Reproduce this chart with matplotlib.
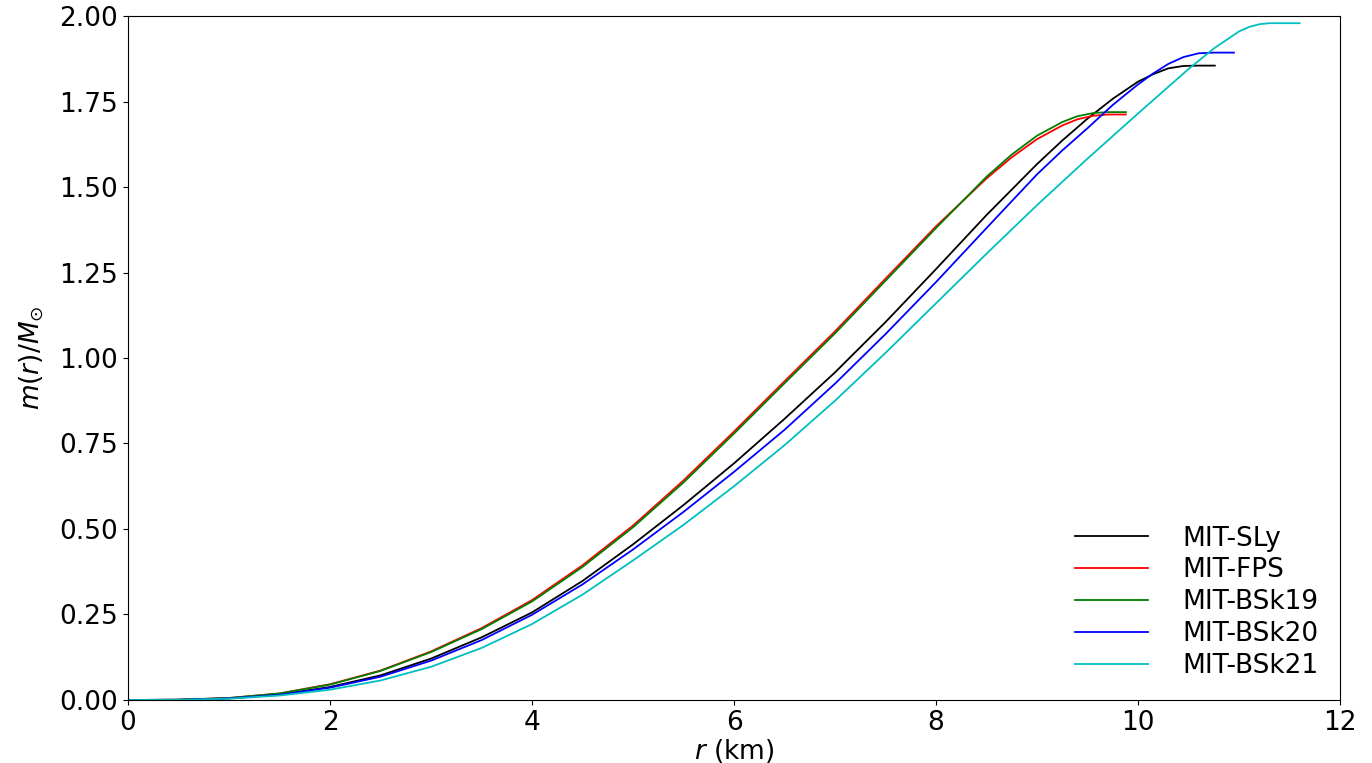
import numpy as np
import matplotlib
matplotlib.use('Agg')
import matplotlib.pyplot as plt

# radius (km) and enclosed mass (M_sun)
r_sly = [0, 0.5, 1, 1.5, 2, 2.5, 3, 3.5, 4, 4.5, 5, 5.5, 6, 6.5, 7, 7.5, 8, 8.5, 9, 9.25, 9.5, 9.75, 10, 10.15, 10.3, 10.45, 10.6, 10.76]
m_sly = [0, 0.0006, 0.005, 0.016, 0.038, 0.072, 0.121, 0.183, 0.256, 0.348, 0.455, 0.57, 0.692, 0.822, 0.958, 1.105, 1.26, 1.418, 1.567, 1.636, 1.70, 1.758, 1.808, 1.83, 1.847, 1.854, 1.855, 1.855]

r_fps = [0, 0.5, 1, 1.5, 2, 2.5, 3, 3.5, 4, 4.5, 5, 5.5, 6, 6.5, 7, 7.5, 8, 8.5, 8.75, 9, 9.25, 9.4, 9.55, 9.7, 9.88]
m_fps = [0, 0.0007, 0.0058, 0.019, 0.046, 0.086, 0.142, 0.21, 0.292, 0.394, 0.51, 0.642, 0.785, 0.932, 1.078, 1.232, 1.385, 1.525, 1.587, 1.64, 1.68, 1.698, 1.708, 1.712, 1.712]

r_bsk19 = [0, 0.5, 1, 1.5, 2, 2.5, 3, 3.5, 4, 4.5, 5, 5.5, 6, 6.5, 7, 7.5, 8, 8.5, 8.75, 9, 9.25, 9.4, 9.55, 9.7, 9.88]
m_bsk19 = [0, 0.0007, 0.0057, 0.019, 0.045, 0.085, 0.14, 0.207, 0.288, 0.389, 0.505, 0.636, 0.779, 0.926, 1.072, 1.226, 1.38, 1.53, 1.595, 1.65, 1.69, 1.707, 1.716, 1.719, 1.719]

r_bsk20 = [0, 0.5, 1, 1.5, 2, 2.5, 3, 3.5, 4, 4.5, 5, 5.5, 6, 6.5, 7, 7.5, 8, 8.5, 9, 9.25, 9.5, 9.75, 10, 10.15, 10.3, 10.45, 10.6, 10.75, 10.95]
m_bsk20 = [0, 0.0006, 0.0047, 0.015, 0.036, 0.068, 0.115, 0.175, 0.249, 0.338, 0.44, 0.55, 0.667, 0.79, 0.925, 1.07, 1.222, 1.38, 1.537, 1.607, 1.672, 1.74, 1.80, 1.832, 1.86, 1.88, 1.891, 1.893, 1.893]

r_bsk21 = [0, 0.5, 1, 1.5, 2, 2.5, 3, 3.5, 4, 4.5, 5, 5.5, 6, 6.5, 7, 7.5, 8, 8.5, 9, 9.5, 10, 10.25, 10.5, 10.75, 11, 11.1, 11.2, 11.3, 11.6]
m_bsk21 = [0, 0.0005, 0.0038, 0.013, 0.03, 0.057, 0.097, 0.152, 0.222, 0.308, 0.408, 0.512, 0.625, 0.745, 0.875, 1.015, 1.16, 1.305, 1.447, 1.583, 1.715, 1.78, 1.845, 1.905, 1.955, 1.968, 1.976, 1.979, 1.979]

labels = ['MIT-SLy', 'MIT-FPS', 'MIT-BSk19', 'MIT-BSk20', 'MIT-BSk21']
colors = ['k', 'r', 'g', 'b', 'c']

fig = plt.figure(figsize=(13.72, 7.63), dpi=100)
ax = fig.add_axes([0.0933, 0.0826, 0.8834, 0.8964])

series = [(r_sly, m_sly), (r_fps, m_fps), (r_bsk19, m_bsk19), (r_bsk20, m_bsk20), (r_bsk21, m_bsk21)]
for (r, m), lab, c in zip(series, labels, colors):
    ax.plot(r, m, color=c, lw=1.3, label=lab)

ax.set_xlim(0, 12)
ax.set_ylim(0, 2.0)
yt = np.arange(0, 2.01, 0.25)
ax.set_yticks(yt)
ax.set_yticklabels(['%.2f' % v for v in yt])
ax.tick_params(labelsize=19)
ax.set_xlabel(r'$r$ (km)', fontsize=19, labelpad=1)
ax.set_ylabel(r'$m(r)/M_{\odot}$', fontsize=19, labelpad=10)
ax.legend(loc='lower right', frameon=False, fontsize=19, handlelength=2.8,
          handletextpad=1.3, borderaxespad=0.4, labelspacing=0.22)

plt.savefig('out.png', dpi=100)
